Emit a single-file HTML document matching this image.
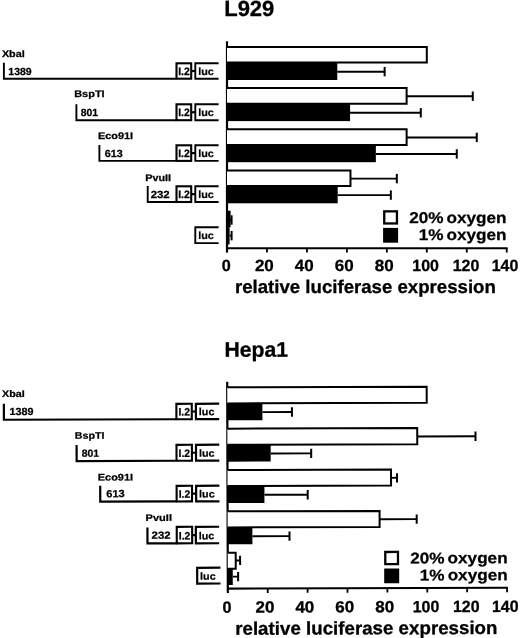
<!DOCTYPE html>
<html><head><meta charset="utf-8"><title>Figure</title>
<style>
html,body{margin:0;padding:0;background:#fff;}
svg{display:block}
.b{font-family:"Liberation Sans",Arial,Helvetica,sans-serif;font-weight:bold;fill:#000;text-rendering:geometricPrecision}
</style></head><body>
<svg width="520" height="638" viewBox="0 0 520 638" style="filter:blur(0.3px)">
<rect width="520" height="638" fill="#fff"/>
<g transform="translate(0,0) rotate(0 227 40)">
<text transform="translate(224.2,16.4) scale(1.0,1)" font-size="22" class="b" text-anchor="start" stroke="#000" stroke-width="0.3">L929</text>
<line x1="227.0" y1="41.3" x2="227.0" y2="252.6" stroke="#000" stroke-width="2.2"/>
<line x1="227.0" y1="248.2" x2="507.62" y2="248.2" stroke="#000" stroke-width="2.1"/>
<text transform="translate(226.2,270.8) scale(1.0,1)" font-size="16.2" class="b" text-anchor="middle" stroke="#000" stroke-width="0.3">0</text>
<line x1="266.96" y1="248.2" x2="266.96" y2="252.6" stroke="#000" stroke-width="1.8"/>
<text transform="translate(264.35999999999996,270.8) scale(1.05,1)" font-size="16.2" class="b" text-anchor="middle" stroke="#000" stroke-width="0.3">20</text>
<line x1="306.92" y1="248.2" x2="306.92" y2="252.6" stroke="#000" stroke-width="1.8"/>
<text transform="translate(304.32,270.8) scale(1.05,1)" font-size="16.2" class="b" text-anchor="middle" stroke="#000" stroke-width="0.3">40</text>
<line x1="346.88" y1="248.2" x2="346.88" y2="252.6" stroke="#000" stroke-width="1.8"/>
<text transform="translate(344.28,270.8) scale(1.05,1)" font-size="16.2" class="b" text-anchor="middle" stroke="#000" stroke-width="0.3">60</text>
<line x1="386.84000000000003" y1="248.2" x2="386.84000000000003" y2="252.6" stroke="#000" stroke-width="1.8"/>
<text transform="translate(384.24,270.8) scale(1.05,1)" font-size="16.2" class="b" text-anchor="middle" stroke="#000" stroke-width="0.3">80</text>
<line x1="426.8" y1="248.2" x2="426.8" y2="252.6" stroke="#000" stroke-width="1.8"/>
<text transform="translate(425.6,270.8) scale(0.985,1)" font-size="16.2" class="b" text-anchor="middle" stroke="#000" stroke-width="0.3">100</text>
<line x1="466.76" y1="248.2" x2="466.76" y2="252.6" stroke="#000" stroke-width="1.8"/>
<text transform="translate(465.96,270.8) scale(0.985,1)" font-size="16.2" class="b" text-anchor="middle" stroke="#000" stroke-width="0.3">120</text>
<line x1="506.72" y1="248.2" x2="506.72" y2="252.6" stroke="#000" stroke-width="1.8"/>
<text transform="translate(505.02000000000004,270.8) scale(0.985,1)" font-size="16.2" class="b" text-anchor="middle" stroke="#000" stroke-width="0.3">140</text>
<text transform="translate(365.4,293.2) scale(1.013,1)" font-size="18.4" class="b" text-anchor="middle" stroke="#000" stroke-width="0.3">relative luciferase expression</text>
<rect x="384.25" y="211.35" width="12.7" height="12.1" fill="#fff" stroke="#000" stroke-width="2.3"/>
<rect x="383.1" y="227.9" width="15" height="14.8" fill="#000"/>
<text transform="translate(506.6,222.9) scale(1.1,1)" font-size="15.6" class="b" text-anchor="end" stroke="#000" stroke-width="0.25" style="word-spacing:-1.6px">20% oxygen</text>
<text transform="translate(506.6,239.9) scale(1.1,1)" font-size="15.6" class="b" text-anchor="end" stroke="#000" stroke-width="0.25" style="word-spacing:-1.6px">1% oxygen</text>
<path d="M227.0 46.9H426.8V62.5H227.0" stroke="#000" stroke-width="2.0" fill="#fff" stroke-linejoin="miter"/>
<rect x="227.0" y="62.5" width="110.28960000000001" height="17.5" fill="#000"/>
<path d="M337.2896 71.65H384.6422" stroke="#000" stroke-width="1.95" fill="none"/>
<path d="M384.6422 66.95V76.35000000000001" stroke="#000" stroke-width="2" fill="none"/>
<path d="M227.0 88.1H406.6202V103.7H227.0" stroke="#000" stroke-width="2.0" fill="#fff" stroke-linejoin="miter"/>
<path d="M406.6202 96.2H472.754" stroke="#000" stroke-width="1.95" fill="none"/>
<path d="M472.754 91.5V100.9" stroke="#000" stroke-width="2" fill="none"/>
<rect x="227.0" y="103.7" width="123.0768" height="17.39999999999999" fill="#000"/>
<path d="M350.0768 112.80000000000001H420.80600000000004" stroke="#000" stroke-width="1.95" fill="none"/>
<path d="M420.80600000000004 108.10000000000001V117.50000000000001" stroke="#000" stroke-width="2" fill="none"/>
<path d="M227.0 129.3H406.6202V144.9H227.0" stroke="#000" stroke-width="2.0" fill="#fff" stroke-linejoin="miter"/>
<path d="M406.6202 137.40000000000003H476.75" stroke="#000" stroke-width="1.95" fill="none"/>
<path d="M476.75 132.70000000000005V142.10000000000002" stroke="#000" stroke-width="2" fill="none"/>
<rect x="227.0" y="144.9" width="148.851" height="17.299999999999983" fill="#000"/>
<path d="M375.851 153.95000000000002H456.77" stroke="#000" stroke-width="1.95" fill="none"/>
<path d="M456.77 149.25000000000003V158.65" stroke="#000" stroke-width="2" fill="none"/>
<path d="M227.0 170.5H350.4764V186.10000000000002H227.0" stroke="#000" stroke-width="2.0" fill="#fff" stroke-linejoin="miter"/>
<path d="M350.4764 178.60000000000002H396.83000000000004" stroke="#000" stroke-width="1.95" fill="none"/>
<path d="M396.83000000000004 173.90000000000003V183.3" stroke="#000" stroke-width="2" fill="none"/>
<rect x="227.0" y="186.10000000000002" width="110.6892" height="17.19999999999999" fill="#000"/>
<path d="M337.6892 195.10000000000002H390.836" stroke="#000" stroke-width="1.95" fill="none"/>
<path d="M390.836 190.40000000000003V199.8" stroke="#000" stroke-width="2" fill="none"/>
<rect x="227.0" y="210.70000000000002" width="3.5974" height="16.599999999999994" fill="#000"/>
<path d="M229.5974 220.0H231.5954" stroke="#000" stroke-width="1.95" fill="none"/>
<path d="M231.5954 215.3V224.7" stroke="#000" stroke-width="2" fill="none"/>
<rect x="227.0" y="227.3" width="2.5974" height="17.099999999999994" fill="#000"/>
<path d="M229.5974 235.65000000000003H231.5954" stroke="#000" stroke-width="1.95" fill="none"/>
<path d="M231.5954 230.95000000000005V240.35000000000002" stroke="#000" stroke-width="2" fill="none"/>
<text transform="translate(1.9,56.7) scale(1.125,1)" font-size="9.6" class="b" text-anchor="start" stroke="#000" stroke-width="0.25">XbaI</text>
<path d="M3.9 62.7V78.7H176.5" stroke="#000" stroke-width="1.9" fill="none"/>
<text transform="translate(20.0,74.8) scale(1.021,1)" font-size="10.3" class="b" text-anchor="middle" stroke="#000" stroke-width="0.25">1389</text>
<rect x="176.5" y="63.3" width="14.7" height="15.400000000000006" fill="#fff" stroke="#000" stroke-width="2.1"/>
<text transform="translate(183.95,74.9) scale(0.97,1)" font-size="10.8" class="b" text-anchor="middle" stroke="#000" stroke-width="0.25">I.2</text>
<path d="M191.5 71.0H195.3" stroke="#000" stroke-width="2.2"/>
<path d="M218.6 63.3H195.3V78.7H218.6" stroke="#000" stroke-width="1.9" fill="none"/>
<text transform="translate(206.0,74.8) scale(1.04,1)" font-size="10.4" class="b" text-anchor="middle" stroke="#000" stroke-width="0.2">luc</text>
<text transform="translate(74.2,97.30000000000001) scale(1.143,1)" font-size="9.6" class="b" text-anchor="start" stroke="#000" stroke-width="0.25">BspTI</text>
<path d="M76.4 104.20000000000002V120.20000000000002H176.5" stroke="#000" stroke-width="1.9" fill="none"/>
<text transform="translate(89.4,116.00000000000001) scale(1.011,1)" font-size="10.3" class="b" text-anchor="middle" stroke="#000" stroke-width="0.25">801</text>
<rect x="176.5" y="104.3" width="14.7" height="15.90000000000002" fill="#fff" stroke="#000" stroke-width="2.1"/>
<text transform="translate(183.95,116.40000000000002) scale(0.97,1)" font-size="10.8" class="b" text-anchor="middle" stroke="#000" stroke-width="0.25">I.2</text>
<path d="M191.5 112.25H195.3" stroke="#000" stroke-width="2.2"/>
<path d="M218.6 104.3H195.3V120.20000000000002H218.6" stroke="#000" stroke-width="1.9" fill="none"/>
<text transform="translate(206.0,116.30000000000001) scale(1.04,1)" font-size="10.4" class="b" text-anchor="middle" stroke="#000" stroke-width="0.2">luc</text>
<text transform="translate(97.9,139.45000000000002) scale(1.14,1)" font-size="9.6" class="b" text-anchor="start" stroke="#000" stroke-width="0.25">Eco91I</text>
<path d="M99.4 144.9V160.9H176.5" stroke="#000" stroke-width="1.9" fill="none"/>
<text transform="translate(113.8,157.0) scale(1.045,1)" font-size="10.3" class="b" text-anchor="middle" stroke="#000" stroke-width="0.25">613</text>
<rect x="176.5" y="145.3" width="14.7" height="15.599999999999994" fill="#fff" stroke="#000" stroke-width="2.1"/>
<text transform="translate(183.95,157.1) scale(0.97,1)" font-size="10.8" class="b" text-anchor="middle" stroke="#000" stroke-width="0.25">I.2</text>
<path d="M191.5 153.10000000000002H195.3" stroke="#000" stroke-width="2.2"/>
<path d="M218.6 145.3H195.3V160.9H218.6" stroke="#000" stroke-width="1.9" fill="none"/>
<text transform="translate(206.0,157.0) scale(1.04,1)" font-size="10.4" class="b" text-anchor="middle" stroke="#000" stroke-width="0.2">luc</text>
<text transform="translate(145.3,180.6) scale(1.125,1)" font-size="9.6" class="b" text-anchor="start" stroke="#000" stroke-width="0.25">PvuII</text>
<path d="M147.7 186.0V202.0H176.5" stroke="#000" stroke-width="1.9" fill="none"/>
<text transform="translate(160.15,198.1) scale(1.108,1)" font-size="10.3" class="b" text-anchor="middle" stroke="#000" stroke-width="0.25">232</text>
<rect x="176.5" y="186.3" width="14.7" height="15.699999999999989" fill="#fff" stroke="#000" stroke-width="2.1"/>
<text transform="translate(183.95,198.2) scale(0.97,1)" font-size="10.8" class="b" text-anchor="middle" stroke="#000" stroke-width="0.25">I.2</text>
<path d="M191.5 194.15H195.3" stroke="#000" stroke-width="2.2"/>
<path d="M218.6 186.3H195.3V202.0H218.6" stroke="#000" stroke-width="1.9" fill="none"/>
<text transform="translate(206.0,198.1) scale(1.04,1)" font-size="10.4" class="b" text-anchor="middle" stroke="#000" stroke-width="0.2">luc</text>
<path d="M218.6 227.3H195.3V243.10000000000002H218.6" stroke="#000" stroke-width="1.9" fill="none"/>
<text transform="translate(206.0,239.20000000000002) scale(1.04,1)" font-size="10.4" class="b" text-anchor="middle" stroke="#000" stroke-width="0.2">luc</text>
</g>
<g transform="translate(0.5,340.4) rotate(-0.17 227 40)">
<text transform="translate(224,16.4) scale(1.0,1)" font-size="21.2" class="b" text-anchor="start" stroke="#000" stroke-width="0.3">Hepa1</text>
<line x1="226.7" y1="41.3" x2="226.7" y2="252.6" stroke="#000" stroke-width="2.2"/>
<line x1="226.7" y1="248.2" x2="506.83" y2="248.2" stroke="#000" stroke-width="2.1"/>
<text transform="translate(225.7,272.3) scale(1.0,1)" font-size="16.2" class="b" text-anchor="middle" stroke="#000" stroke-width="0.3">0</text>
<line x1="266.59" y1="248.2" x2="266.59" y2="252.6" stroke="#000" stroke-width="1.8"/>
<text transform="translate(263.78999999999996,272.3) scale(1.05,1)" font-size="16.2" class="b" text-anchor="middle" stroke="#000" stroke-width="0.3">20</text>
<line x1="306.48" y1="248.2" x2="306.48" y2="252.6" stroke="#000" stroke-width="1.8"/>
<text transform="translate(303.68,272.3) scale(1.05,1)" font-size="16.2" class="b" text-anchor="middle" stroke="#000" stroke-width="0.3">40</text>
<line x1="346.37" y1="248.2" x2="346.37" y2="252.6" stroke="#000" stroke-width="1.8"/>
<text transform="translate(343.57,272.3) scale(1.05,1)" font-size="16.2" class="b" text-anchor="middle" stroke="#000" stroke-width="0.3">60</text>
<line x1="386.26" y1="248.2" x2="386.26" y2="252.6" stroke="#000" stroke-width="1.8"/>
<text transform="translate(383.46,272.3) scale(1.05,1)" font-size="16.2" class="b" text-anchor="middle" stroke="#000" stroke-width="0.3">80</text>
<line x1="426.15" y1="248.2" x2="426.15" y2="252.6" stroke="#000" stroke-width="1.8"/>
<text transform="translate(424.75,272.3) scale(0.985,1)" font-size="16.2" class="b" text-anchor="middle" stroke="#000" stroke-width="0.3">100</text>
<line x1="466.03999999999996" y1="248.2" x2="466.03999999999996" y2="252.6" stroke="#000" stroke-width="1.8"/>
<text transform="translate(465.03999999999996,272.3) scale(0.985,1)" font-size="16.2" class="b" text-anchor="middle" stroke="#000" stroke-width="0.3">120</text>
<line x1="505.93" y1="248.2" x2="505.93" y2="252.6" stroke="#000" stroke-width="1.8"/>
<text transform="translate(504.03000000000003,272.3) scale(0.985,1)" font-size="16.2" class="b" text-anchor="middle" stroke="#000" stroke-width="0.3">140</text>
<text transform="translate(365.09999999999997,294.4) scale(1.018,1)" font-size="18.4" class="b" text-anchor="middle" stroke="#000" stroke-width="0.3">relative luciferase expression</text>
<rect x="384.25" y="212.04999999999998" width="12.7" height="12.1" fill="#fff" stroke="#000" stroke-width="2.3"/>
<rect x="383.1" y="228.6" width="15" height="14.8" fill="#000"/>
<text transform="translate(506.6,223.6) scale(1.1,1)" font-size="15.6" class="b" text-anchor="end" stroke="#000" stroke-width="0.25" style="word-spacing:-1.6px">20% oxygen</text>
<text transform="translate(506.6,240.6) scale(1.1,1)" font-size="15.6" class="b" text-anchor="end" stroke="#000" stroke-width="0.25" style="word-spacing:-1.6px">1% oxygen</text>
<path d="M226.7 46.9H426.15V63.0H226.7" stroke="#000" stroke-width="2.0" fill="#fff" stroke-linejoin="miter"/>
<rect x="226.7" y="63.0" width="35.1032" height="16.900000000000006" fill="#000"/>
<path d="M261.8032 71.85000000000001H291.3218" stroke="#000" stroke-width="1.95" fill="none"/>
<path d="M291.3218 67.15V76.55000000000001" stroke="#000" stroke-width="2" fill="none"/>
<path d="M226.7 88.25H416.5764V104.35H226.7" stroke="#000" stroke-width="2.0" fill="#fff" stroke-linejoin="miter"/>
<path d="M416.5764 96.6H474.81579999999997" stroke="#000" stroke-width="1.95" fill="none"/>
<path d="M474.81579999999997 91.89999999999999V101.3" stroke="#000" stroke-width="2" fill="none"/>
<rect x="226.7" y="104.35" width="43.280649999999994" height="16.900000000000006" fill="#000"/>
<path d="M269.98064999999997 113.2H310.469" stroke="#000" stroke-width="1.95" fill="none"/>
<path d="M310.469 108.5V117.9" stroke="#000" stroke-width="2" fill="none"/>
<path d="M226.7 129.6H390.249V145.7H226.7" stroke="#000" stroke-width="2.0" fill="#fff" stroke-linejoin="miter"/>
<path d="M390.249 137.95H396.23249999999996" stroke="#000" stroke-width="1.95" fill="none"/>
<path d="M396.23249999999996 133.25V142.64999999999998" stroke="#000" stroke-width="2" fill="none"/>
<rect x="226.7" y="145.7" width="36.89825" height="16.900000000000034" fill="#000"/>
<path d="M263.59825 154.55H306.8789" stroke="#000" stroke-width="1.95" fill="none"/>
<path d="M306.8789 149.85000000000002V159.25" stroke="#000" stroke-width="2" fill="none"/>
<path d="M226.7 170.95000000000002H378.68089999999995V187.05H226.7" stroke="#000" stroke-width="2.0" fill="#fff" stroke-linejoin="miter"/>
<path d="M378.68089999999995 179.3H415.7786" stroke="#000" stroke-width="1.95" fill="none"/>
<path d="M415.7786 174.60000000000002V184.0" stroke="#000" stroke-width="2" fill="none"/>
<rect x="226.7" y="187.05" width="24.7318" height="16.900000000000006" fill="#000"/>
<path d="M251.43179999999998 195.9H288.5295" stroke="#000" stroke-width="1.95" fill="none"/>
<path d="M288.5295 191.20000000000002V200.6" stroke="#000" stroke-width="2" fill="none"/>
<path d="M226.7 212.3H234.678V228.4H226.7" stroke="#000" stroke-width="2.0" fill="#fff" stroke-linejoin="miter"/>
<path d="M234.678 220.05000000000004H239.0659" stroke="#000" stroke-width="1.95" fill="none"/>
<path d="M239.0659 215.35000000000005V224.75000000000003" stroke="#000" stroke-width="2" fill="none"/>
<rect x="226.7" y="228.4" width="4.98625" height="16.30000000000001" fill="#000"/>
<path d="M231.68625 236.25000000000003H237.07139999999998" stroke="#000" stroke-width="1.95" fill="none"/>
<path d="M237.07139999999998 231.55000000000004V240.95000000000002" stroke="#000" stroke-width="2" fill="none"/>
<text transform="translate(1.4,56.0) scale(1.125,1)" font-size="9.6" class="b" text-anchor="start" stroke="#000" stroke-width="0.25">XbaI</text>
<path d="M3.3 62.7V78.7H175.8" stroke="#000" stroke-width="2.2" fill="none"/>
<text transform="translate(20.9,74.0) scale(1.046,1)" font-size="10.3" class="b" text-anchor="middle" stroke="#000" stroke-width="0.25">1389</text>
<rect x="175.8" y="63.3" width="15.4" height="15.400000000000006" fill="#fff" stroke="#000" stroke-width="2.1"/>
<text transform="translate(183.6,74.9) scale(0.97,1)" font-size="10.8" class="b" text-anchor="middle" stroke="#000" stroke-width="0.25">I.2</text>
<path d="M191.5 71.0H195.3" stroke="#000" stroke-width="2.2"/>
<path d="M218.6 63.3H195.3V78.7H218.6" stroke="#000" stroke-width="2.2" fill="none"/>
<text transform="translate(206.0,74.8) scale(1.04,1)" font-size="10.4" class="b" text-anchor="middle" stroke="#000" stroke-width="0.2">luc</text>
<text transform="translate(74.2,98.00000000000001) scale(1.115,1)" font-size="9.6" class="b" text-anchor="start" stroke="#000" stroke-width="0.25">BspTI</text>
<path d="M75.9 104.20000000000002V120.20000000000002H175.8" stroke="#000" stroke-width="2.2" fill="none"/>
<text transform="translate(89.7,115.9) scale(1.011,1)" font-size="10.3" class="b" text-anchor="middle" stroke="#000" stroke-width="0.25">801</text>
<rect x="175.8" y="104.3" width="15.4" height="15.90000000000002" fill="#fff" stroke="#000" stroke-width="2.1"/>
<text transform="translate(183.6,116.40000000000002) scale(0.97,1)" font-size="10.8" class="b" text-anchor="middle" stroke="#000" stroke-width="0.25">I.2</text>
<path d="M191.5 112.25H195.3" stroke="#000" stroke-width="2.2"/>
<path d="M218.6 104.3H195.3V120.20000000000002H218.6" stroke="#000" stroke-width="2.2" fill="none"/>
<text transform="translate(206.0,116.30000000000001) scale(1.04,1)" font-size="10.4" class="b" text-anchor="middle" stroke="#000" stroke-width="0.2">luc</text>
<text transform="translate(97.0,139.75) scale(1.14,1)" font-size="9.6" class="b" text-anchor="start" stroke="#000" stroke-width="0.25">Eco91I</text>
<path d="M99.4 144.9V160.9H175.8" stroke="#000" stroke-width="2.2" fill="none"/>
<text transform="translate(114.7,156.4) scale(1.075,1)" font-size="10.3" class="b" text-anchor="middle" stroke="#000" stroke-width="0.25">613</text>
<rect x="175.8" y="145.3" width="15.4" height="15.599999999999994" fill="#fff" stroke="#000" stroke-width="2.1"/>
<text transform="translate(183.6,157.1) scale(0.97,1)" font-size="10.8" class="b" text-anchor="middle" stroke="#000" stroke-width="0.25">I.2</text>
<path d="M191.5 153.10000000000002H195.3" stroke="#000" stroke-width="2.2"/>
<path d="M218.6 145.3H195.3V160.9H218.6" stroke="#000" stroke-width="2.2" fill="none"/>
<text transform="translate(206.0,157.0) scale(1.04,1)" font-size="10.4" class="b" text-anchor="middle" stroke="#000" stroke-width="0.2">luc</text>
<text transform="translate(144.7,180.3) scale(1.15,1)" font-size="9.6" class="b" text-anchor="start" stroke="#000" stroke-width="0.25">PvuII</text>
<path d="M146.5 186.8V202.8H175.8" stroke="#000" stroke-width="2.2" fill="none"/>
<text transform="translate(160.15,198.1) scale(1.108,1)" font-size="10.3" class="b" text-anchor="middle" stroke="#000" stroke-width="0.25">232</text>
<rect x="175.8" y="186.3" width="15.4" height="16.5" fill="#fff" stroke="#000" stroke-width="2.1"/>
<text transform="translate(183.6,199.0) scale(0.97,1)" font-size="10.8" class="b" text-anchor="middle" stroke="#000" stroke-width="0.25">I.2</text>
<path d="M191.5 194.55H195.3" stroke="#000" stroke-width="2.2"/>
<path d="M218.2 186.3H194.9V202.8H218.2" stroke="#000" stroke-width="2.2" fill="none"/>
<text transform="translate(205.6,198.9) scale(1.04,1)" font-size="10.4" class="b" text-anchor="middle" stroke="#000" stroke-width="0.2">luc</text>
<path d="M219.4 227.3H196.10000000000002V243.10000000000002H219.4" stroke="#000" stroke-width="2.2" fill="none"/>
<text transform="translate(206.8,239.20000000000002) scale(1.04,1)" font-size="10.4" class="b" text-anchor="middle" stroke="#000" stroke-width="0.2">luc</text>
</g>
</svg>
</body></html>
